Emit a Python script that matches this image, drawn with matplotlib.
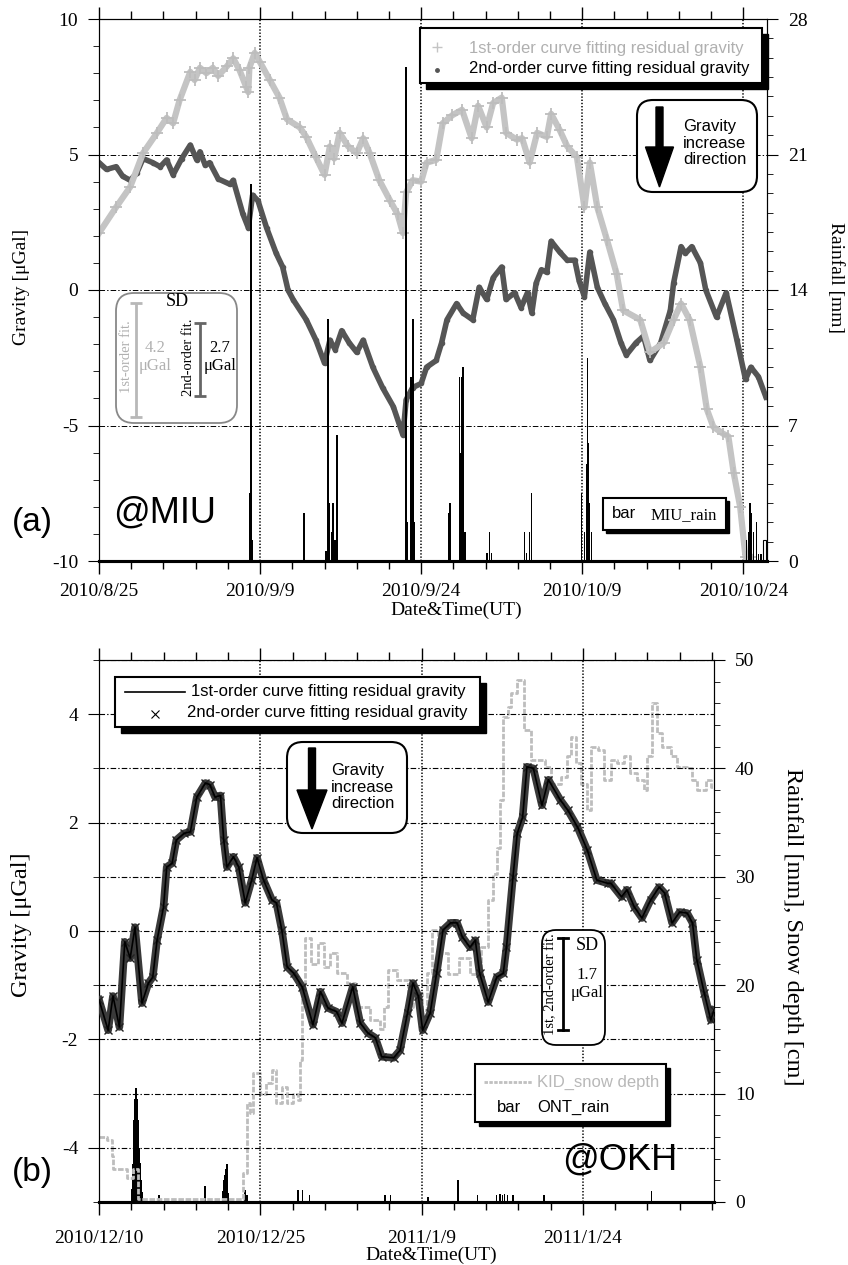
import matplotlib
matplotlib.use("Agg")
import matplotlib.pyplot as plt
from matplotlib.patches import FancyBboxPatch, Rectangle, Polygon
from matplotlib.lines import Line2D
from matplotlib.ticker import MultipleLocator, FixedLocator

# ---- panel (a) data : days since 2010/8/25 ----
a_day1 = [0, 1.6, 2.9, 4.1, 5.4, 6.3, 6.9, 7.5, 8.5, 8.9, 9.4, 10.0, 10.6, 11.1, 11.9, 12.5, 13.1, 13.7, 13.9, 14.0,
          14.5, 15.0, 15.9, 16.8, 17.5, 18.7, 19.3, 20.2, 21.0, 21.5, 21.9, 22.4, 23.2, 24.0, 24.6, 25.2, 26.1, 27.1, 27.8, 28.3,
          28.6, 29.2, 30.0, 30.5, 31.4, 32.0, 32.9, 33.8, 34.7, 35.3, 36.1, 36.7, 37.5, 37.9, 38.9, 39.4, 40.1, 40.8, 41.7, 42.1,
          42.9, 43.6, 44.5, 45.2, 45.7, 46.4, 47.3, 48.2, 48.8, 50.4, 51.3, 52.6, 53.5, 54.2, 55.0, 56.0, 56.6, 57.2, 58.1, 58.6,
          59.1, 59.7, 60.2, 60.7]
a_grav1 = [2.1, 3.06, 3.8, 5.05, 5.8, 6.35, 6.15, 7.0, 8.05, 7.75, 8.2, 8.0, 8.2, 7.9, 8.25, 8.55, 8.1, 7.5, 7.3, 8.2,
           8.75, 8.4, 7.75, 7.1, 6.3, 6.0, 5.65, 4.9, 4.25, 5.3, 4.85, 5.8, 5.3, 5.05, 5.6, 5.05, 4.05, 3.3, 2.8, 2.1,
           3.6, 4.05, 4.0, 4.7, 4.8, 6.15, 6.45, 6.65, 5.6, 6.8, 6.0, 6.9, 7.1, 5.8, 5.55, 5.6, 4.7, 5.8, 5.65, 6.5,
           5.9, 5.3, 4.9, 3.05, 4.7, 3.05, 1.85, 0.6, -0.75, -1.1, -2.3, -1.95, -1.1, -0.5, -1.1, -2.85, -4.4, -5.05, -5.3, -5.4,
           -6.75, -8.0, -9.85, -9.85]

a_day2 = [0, 0.7, 1.6, 2.2, 2.9, 3.5, 4.1, 5.0, 5.7, 6.3, 6.9, 7.7, 8.5, 9.1, 9.4, 9.9, 10.3, 11.1, 12.2, 12.5,
          13.4, 13.9, 14.3, 14.8, 15.6, 16.5, 17.1, 17.6, 18.1, 19.3, 20.2, 21.0, 21.5, 22.0, 22.6, 23.3, 24.0, 24.6, 25.5, 26.4,
          27.4, 28.3, 28.6, 29.2, 30.0, 30.5, 31.4, 31.9, 32.4, 33.3, 33.9, 34.8, 35.4, 36.1, 36.7, 37.5, 37.9, 38.7, 39.3, 39.9,
          40.3, 40.7, 41.2, 41.7, 42.1, 42.9, 43.6, 44.3, 44.7, 45.2, 45.7, 46.4, 47.1, 47.9, 48.6, 49.1, 50.0, 50.7, 51.3, 52.3,
          53.2, 53.5, 54.2, 54.6, 55.2, 56.0, 56.5, 57.5, 58.4, 59.4, 60.2, 60.7, 61.4, 62.1]
a_grav2 = [4.7, 4.45, 4.55, 4.2, 4.05, 4.3, 4.85, 4.7, 4.55, 4.8, 4.25, 4.85, 5.35, 4.8, 5.1, 4.6, 4.7, 4.1, 3.9, 4.05,
           2.8, 2.3, 3.5, 3.3, 2.3, 1.35, 0.85, 0.0, -0.37, -1.1, -1.85, -2.7, -1.85, -2.2, -1.5, -1.95, -2.3, -1.85, -2.85, -3.6,
           -4.3, -5.35, -4.05, -3.6, -3.45, -2.85, -2.6, -1.95, -1.1, -0.5, -0.85, -1.1, 0.1, -0.35, 0.45, 0.85, -0.35, -0.1, -0.65, -0.1,
           -0.85, 0.25, 0.75, 0.65, 1.8, 1.4, 1.1, 1.1, 0.35, -0.25, 1.4, 0.1, -0.5, -1.1, -1.95, -2.4, -1.95, -1.7, -2.6, -1.95,
           -0.75, 0.25, 1.6, 1.35, 1.6, 1.0, 0.0, -1.0, -0.1, -1.85, -3.3, -2.85, -3.2, -3.95]

a_rain_day = [14.05, 14.14, 14.23, 19.07, 21.12, 21.3, 21.4, 21.67, 21.77, 21.95, 22.14, 28.56, 28.65, 29.02, 29.21, 29.3,
              32.56, 32.65, 33.58, 33.68, 33.77, 33.86, 34.05, 36.1, 36.37, 36.56, 39.63, 39.81, 40.09, 40.28,
              44.93, 45.21, 45.4, 45.49, 45.58, 45.67, 45.86, 60.28, 60.47, 60.65, 60.74, 60.93, 61.21, 61.4, 61.67]
a_rain_mm = [3.5, 19.5, 1.1, 2.5, 0.5, 12.5, 3.0, 1.5, 3.0, 1.1, 6.5, 25.5, 2.0, 9.5, 12.5, 2.0,
             2.5, 3.0, 9.5, 5.6, 9.5, 10.0, 1.5, 0.4, 1.5, 0.4, 1.5, 0.4, 1.5, 3.5,
             3.5, 1.5, 5.0, 10.5, 6.1, 3.0, 1.5, 1.1, 1.5, 3.0, 2.5, 1.5, 2.0, 0.35, 0.35]
a_open_day = [61.95]
a_open_mm = [1.1]
a_xlabels = ["2010/8/25", "2010/9/9", "2010/9/24", "2010/10/9", "2010/10/24"]
a_sd = [4.2, 2.7]

# ---- panel (b) data : days since 2010/12/10 ----
b_day = [0, 0.85, 1.3, 1.9, 2.4, 2.9, 3.35, 4.0, 4.6, 5.0, 5.4, 6.0, 6.3, 6.8, 7.2, 7.9, 8.5, 9.1, 9.9, 10.3,
         10.8, 11.3, 11.6, 11.9, 12.5, 13.0, 13.6, 14.2, 14.7, 15.3, 16.1, 16.5, 17.0, 17.5, 18.1, 18.9, 19.9, 20.6, 21.3, 22.1,
         22.6, 23.6, 24.3, 25.0, 25.7, 26.3, 27.4, 28.0, 28.7, 29.2, 29.7, 30.1, 30.8, 31.4, 32.0, 32.7, 33.3, 33.8, 34.5, 35.0,
         35.4, 36.2, 37.0, 37.6, 37.9, 38.5, 38.9, 39.4, 39.8, 40.4, 41.2, 41.8, 42.9, 43.6, 44.5, 45.4, 46.3, 47.3, 47.6, 48.6,
         49.1, 49.8, 50.5, 51.3, 52.1, 52.6, 53.3, 54.0, 54.7, 55.2, 55.6, 56.3, 56.9, 57.2]
b_grav = [-1.27, -1.83, -1.2, -1.77, -0.2, -0.5, 0.07, -1.33, -0.96, -0.85, -0.17, 0.44, 1.18, 1.25, 1.68, 1.8, 1.83, 2.47, 2.73, 2.7,
          2.47, 2.5, 1.68, 1.18, 1.37, 1.18, 0.52, 0.94, 1.35, 0.94, 0.57, 0.52, 0.02, -0.66, -0.78, -1.03, -1.73, -1.12, -1.42, -1.49,
          -1.7, -1.03, -1.7, -1.88, -1.97, -2.32, -2.34, -2.2, -1.51, -0.96, -1.2, -1.83, -1.51, -0.78, 0.02, 0.15, 0.15, -0.11, -0.3, -0.17,
          -0.78, -1.31, -0.85, -0.78, -0.3, 0.99, 1.8, 2.1, 3.03, 3.0, 2.32, 2.79, 2.42, 2.23, 1.92, 1.5, 0.94, 0.88, 0.88, 0.63,
          0.76, 0.44, 0.24, 0.57, 0.81, 0.7, 0.15, 0.35, 0.33, 0.15, -0.53, -1.15, -1.64, -1.46]

snow_day = [0, 0.3, 0.7, 1.2, 1.3, 2.0, 2.6, 3.2, 3.6, 13.2, 13.4, 13.8, 14.0, 14.3, 15.0, 15.5, 16.1, 16.5, 17.0,
            17.5, 18.0, 18.5, 18.7, 18.9, 19.2, 19.7, 20.4, 20.9, 21.5, 22.1, 23.1, 23.8, 25.2, 26.1, 26.5, 26.9, 27.7, 28.7, 29.2,
            30.0, 30.5, 31.0, 31.5, 32.5, 33.5, 34.5, 35.5, 36.2, 36.6, 37.0, 37.3, 37.6, 38.0, 38.3, 38.9, 39.5, 40.2, 41.1, 41.5,
            42.0, 43.0, 43.5, 43.9, 44.4, 44.8, 45.4, 45.8, 46.4, 47.0, 47.6, 48.2, 48.8, 49.4, 50.0, 50.7, 51.0, 51.4, 51.9, 52.4,
            53.2, 53.8, 54.7, 55.2, 55.6, 56.5, 56.9, 57.2]
snow_cm = [6.0, 6.0, 5.7, 4.2, 3.0, 3.0, 2.2, 3.0, 0.3, 0.3, 2.7, 9.1, 8.2, 11.9, 10.0, 11.0, 12.2, 9.1, 10.6,
           9.1, 10.0, 9.4, 13.1, 19.3, 24.4, 22.0, 23.9, 21.7, 23.0, 21.1, 20.2, 18.0, 16.8, 16.0, 18.0, 21.4, 20.5, 18.0, 19.3,
           17.7, 21.1, 25.1, 23.0, 21.0, 22.5, 21.0, 23.5, 27.9, 30.3, 32.7, 37.1, 44.7, 45.7, 47.0, 48.2, 43.5, 40.8, 40.8, 40.1,
           38.6, 39.2, 41.1, 42.9, 40.5, 38.6, 36.2, 42.0, 41.7, 38.9, 40.8, 40.5, 41.1, 39.6, 38.9, 38.0, 41.1, 46.0, 43.3, 42.0,
           41.1, 40.1, 40.0, 38.9, 38.0, 38.9, 38.3, 38.3]

b_rain_day = [3.07, 3.16, 3.26, 3.35, 3.44, 3.53, 3.63, 3.72, 3.81, 3.9, 4.0, 5.58, 9.86, 11.53, 11.62, 11.72, 11.81, 11.9, 12.0,
              13.58, 13.77, 18.5, 18.9, 19.6, 26.6, 27.1, 30.6, 33.4, 35.2, 37.0, 37.3, 37.5, 37.7, 38.0, 38.5, 41.4, 51.4]
b_rain_mm = [1.2, 3.5, 7.6, 9.5, 10.5, 9.5, 7.6, 5.0, 3.6, 2.0, 0.9, 0.6, 1.5, 1.0, 2.0, 2.5, 3.0, 3.5, 0.8,
             1.1, 0.6, 1.1, 1.1, 0.6, 0.6, 0.6, 0.5, 2.0, 0.6, 0.6, 0.7, 0.6, 0.7, 0.6, 0.6, 0.6, 1.0]
b_xlabels = ["2010/12/10", "2010/12/25", "2011/1/9", "2011/1/24"]
b_sd = [1.7]

plt.rcParams["font.family"] = "Liberation Serif"
plt.rcParams["axes.unicode_minus"] = False
plt.rcParams["lines.scale_dashes"] = False
SANS = "Liberation Sans"
LIGHT = "#c4c4c4"
DARK = "#555555"

W, H = 848, 1265
fig = plt.figure(figsize=(W / 100, H / 100), dpi=100)
T = fig.dpi_scale_trans
ZP, ZT = 20, 21   # annotations above both axes


def ftext(x, y, s, **kw):
    kw.setdefault("va", "center")
    fig.text(x / W, 1 - y / H, s, zorder=ZT, **kw)


def fline(xs, ys, **kw):
    fig.add_artist(Line2D([x / 100 for x in xs], [(H - y) / 100 for y in ys], transform=T, zorder=ZT, **kw))


def frect(x0, y0, x1, y1, **kw):
    fig.add_artist(Rectangle((x0 / 100, (H - y1) / 100), (x1 - x0) / 100, (y1 - y0) / 100,
                             transform=T, zorder=ZP, **kw))


def fround(x0, y0, x1, y1, r, **kw):
    fig.add_artist(FancyBboxPatch((x0 / 100, (H - y1) / 100), (x1 - x0) / 100, (y1 - y0) / 100,
                                  boxstyle="round,pad=0,rounding_size=%f" % (r / 100), transform=T, zorder=ZP, **kw))


def farrow(xc, top, base, tip, shaft_w, head_w):
    pts = [(xc - shaft_w / 2, top), (xc + shaft_w / 2, top), (xc + shaft_w / 2, base), (xc + head_w / 2, base),
           (xc, tip), (xc - head_w / 2, base), (xc - shaft_w / 2, base)]
    fig.add_artist(Polygon([(x / 100, (H - y) / 100) for x, y in pts], closed=True, fc="k", ec="k",
                           transform=T, zorder=ZT))


def shadow_box(x0, y0, x1, y1, off):
    frect(x0 + off, y0 + off, x1 + off, y1 + off, fc="k", ec="k")
    frect(x0, y0, x1, y1, fc="white", ec="k", lw=1.5)


def style_axes(ax, ax2, xmax, xlabels, ymin, ylim, yticks, r_lim, r_maj, r_min):
    ax.set_xlim(0, xmax)
    ax.xaxis.set_major_locator(FixedLocator([15 * i for i in range(len(xlabels))]))
    ax.set_xticklabels(xlabels)
    ax.xaxis.set_minor_locator(MultipleLocator(3))
    ax.tick_params(axis="x", which="both", top=True, bottom=True, direction="out", labelsize=14, pad=7)
    ax.tick_params(axis="x", which="major", length=9, width=1)
    ax.tick_params(axis="x", which="minor", length=6, width=1)
    ax.set_ylim(*ylim)
    ax.yaxis.set_major_locator(FixedLocator(yticks))
    ax.yaxis.set_minor_locator(MultipleLocator(ymin))
    ax.tick_params(axis="y", which="both", right=False, direction="out", labelsize=14, pad=7)
    ax.tick_params(axis="y", which="major", length=8)
    ax.tick_params(axis="y", which="minor", length=4)
    ax2.set_ylim(*r_lim)
    ax2.yaxis.set_major_locator(MultipleLocator(r_maj))
    ax2.yaxis.set_minor_locator(MultipleLocator(r_min))
    ax2.tick_params(axis="y", which="both", direction="out", labelsize=14, pad=7)
    ax2.tick_params(axis="y", which="major", length=8)
    ax2.tick_params(axis="y", which="minor", length=4)
    ax.grid(axis="x", which="major", color="k", lw=1.1, ls=(0, (1.0, 1.3)))
    ax.spines["bottom"].set_linewidth(2.2)
    ax2.spines["bottom"].set_linewidth(2.2)


# ================= panel (a) =================
axA = fig.add_axes([99 / W, 1 - 561 / H, 668 / W, 542 / H])
axA2 = axA.twinx()
axA.plot(a_day2, a_grav2, color=DARK, lw=4, solid_joinstyle="round", zorder=3)
axA.plot(a_day2, a_grav2, ls="none", marker="o", ms=3, color=DARK, zorder=3)
axA.plot(a_day1, a_grav1, color=LIGHT, lw=4.5, solid_joinstyle="round", zorder=4)
axA.plot(a_day1, a_grav1, ls="none", marker="+", ms=8, mew=1.3, color="#bdbdbd", zorder=4)
axA2.bar(a_rain_day, a_rain_mm, width=0.16, color="k", lw=0)
axA2.bar(a_open_day, a_open_mm, width=0.3, facecolor="white", edgecolor="k", lw=0.8)
style_axes(axA, axA2, 62.2, a_xlabels, 1, (-10, 10), [-10, -5, 0, 5, 10], (0, 28), 7, 1)
axA.grid(axis="y", which="major", color="k", lw=0.7, ls=(0, (4, 1.5, 1, 1.5)))

# SD bars drawn with their data-scale length
axA.errorbar([3.44], [-0.48 - a_sd[0] / 2], yerr=[a_sd[0] / 2], color="#b8b8b8", lw=2, capsize=4, capthick=2, zorder=6)
axA.errorbar([9.4], [-1.22 - a_sd[1] / 2], yerr=[a_sd[1] / 2], color="#666666", lw=2, capsize=4, capthick=2, zorder=6)

ftext(22, 287, "Gravity [\u03bcGal]", rotation=90, ha="center", size=14)
ftext(836, 278, "Rainfall [mm]", rotation=270, ha="center", size=14)
ftext(456, 610, "Date&Time(UT)", ha="center", size=14)

# legend (a)
shadow_box(420, 28, 762, 83, 6)
fline([437], [47], ls="none", marker="+", ms=7, mew=1, color=LIGHT)
fline([437], [70], ls="none", marker="o", ms=2.5, color=DARK)
ftext(469, 48, "1st-order curve fitting residual gravity", family=SANS, size=12, color="#b0b0b0")
ftext(469, 69, "2nd-order curve fitting residual gravity", family=SANS, size=12, color="k")

# gravity direction box (a)
fround(637, 100, 757, 192, 16, fc="white", ec="k", lw=1.5)
farrow(659.5, 107, 147, 187, 7, 28)
ftext(683, 143, "Gravity\nincrease\ndirection", family=SANS, size=12, ha="left", linespacing=1.15)

# SD box (a)
fround(116, 293, 237, 423, 18, fc="none", ec="#888888", lw=1.3)
ftext(177, 302, "SD", ha="center", size=13)
ftext(127, 357, "1st-order fit.", rotation=90, ha="center", size=10.5, color="#b0b0b0")
ftext(155, 357, "4.2\n\u03bcGal", ha="center", size=12, color="#b0b0b0", linespacing=1.1)
ftext(188, 357, "2nd-order fit.", rotation=90, ha="center", size=10.5, color="k")
ftext(220, 357, "2.7\n\u03bcGal", ha="center", size=12, color="k", linespacing=1.1)

# rain legend (a)
shadow_box(603, 498, 726, 530, 3)
ftext(612, 514, "bar", family=SANS, size=12)
ftext(651, 515, "MIU_rain", size=12)

ftext(165, 513, "@MIU", family=SANS, size=26, ha="center")
ftext(32, 522, "(a)", family=SANS, size=24, ha="center")

# ================= panel (b) =================
axB = fig.add_axes([99 / W, 1 - 1202 / H, 615 / W, 542 / H])
axB2 = axB.twinx()
axB.set_zorder(axB2.get_zorder() + 1)
axB.patch.set_visible(False)
axB2.plot(snow_day, snow_cm, drawstyle="steps-post", color="#bdbdbd", lw=2, ls=(0, (4, 1.2)))
axB2.bar(b_rain_day, b_rain_mm, width=0.12, color="k", lw=0)
axB.plot(b_day, b_grav, color="#3a3a3a", lw=5.5, solid_joinstyle="round", zorder=3)
axB.plot(b_day, b_grav, ls="none", marker="x", ms=6, mew=1, color="#222222", zorder=3)
axB.plot(b_day, b_grav, color="k", lw=1.2, zorder=4)
style_axes(axB, axB2, 57.2, b_xlabels, 1, (-5, 5), [-4, -2, 0, 2, 4], (0, 50), 10, 2)
axB.grid(axis="y", which="both", color="k", lw=0.8, ls=(0, (4, 1.5, 1, 1.5)))
axB.tick_params(axis="x", pad=11)

axB.errorbar([43.16], [-0.13 - b_sd[0] / 2], yerr=[b_sd[0] / 2], color="k", lw=2, capsize=4, capthick=2, zorder=6)

ftext(22, 925, "Gravity [\u03bcGal]", rotation=90, ha="center", size=17.5)
ftext(792, 927, "Rainfall [mm], Snow depth [cm]", rotation=270, ha="center", size=17.5)
ftext(431, 1255, "Date&Time(UT)", ha="center", size=14)

# legend (b)
shadow_box(115, 677, 480, 727, 6)
fline([125, 185], [692, 692], color="k", lw=1.2)
fline([155], [714], ls="none", marker="x", ms=6, mew=0.8, color="k")
ftext(328, 692, "1st-order curve fitting residual gravity", family=SANS, size=12, ha="center")
ftext(327, 713, "2nd-order curve fitting residual gravity", family=SANS, size=12, ha="center")

# gravity direction box (b)
fround(287, 742, 407, 833, 16, fc="white", ec="k", lw=1.5)
farrow(312, 748, 790, 829, 7, 30)
ftext(331, 787, "Gravity\nincrease\ndirection", family=SANS, size=12, ha="left", linespacing=1.15)

# SD box (b)
fround(542, 930, 605, 1045, 14, fc="white", ec="k", lw=1.3)
fline([563, 563], [938, 938 + b_sd[0] * 54.2], color="k", lw=2)
fline([558, 568], [938, 938], color="k", lw=2)
fline([558, 568], [938 + b_sd[0] * 54.2] * 2, color="k", lw=2)
ftext(587, 946, "SD", ha="center", size=13)
ftext(551, 984, "1st, 2nd-order fit.", rotation=90, ha="center", size=10.5)
ftext(587, 984, "1.7\n\u03bcGal", ha="center", size=12, linespacing=1.1)

# snow / rain legend (b)
shadow_box(475, 1064, 666, 1122, 4)
fline([484, 532], [1082, 1082], color="#c0c0c0", lw=2, ls=(0, (2.5, 1)))
ftext(537, 1082, "KID_snow depth", family=SANS, size=12, color="#b8b8b8")
ftext(497, 1107, "bar", family=SANS, size=12)
ftext(537, 1107, "ONT_rain", family=SANS, size=12)

ftext(620, 1160, "@OKH", family=SANS, size=26, ha="center")
ftext(32, 1172, "(b)", family=SANS, size=24, ha="center")

fig.savefig("out.png", dpi=100)
